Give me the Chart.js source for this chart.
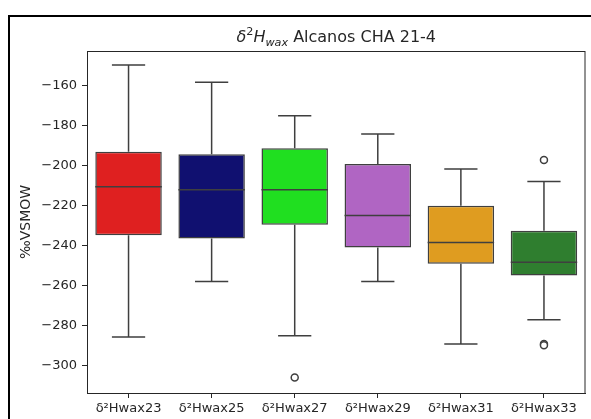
<!DOCTYPE html>
<html>
<head>
<meta charset="utf-8">
<script src="https://cdn.jsdelivr.net/npm/chart.js@4/dist/chart.umd.min.js"></script>
<style>
  html, body { margin: 0; padding: 0; background: #fff; }
  #wrap { width: 591px; height: 419px; position: relative; }
</style>
</head>
<body>
<div id="wrap"><canvas id="boxChart" width="591" height="419"></canvas></div>
<script>
// values (per category)
const categories = ['δ²Hwax23', 'δ²Hwax25', 'δ²Hwax27', 'δ²Hwax29', 'δ²Hwax31', 'δ²Hwax33'];
const whiskerLow = [-285.7, -257.9, -285.0, -257.9, -289.2, -277.0];
const q1 = [-234.7, -236.3, -229.5, -240.9, -249.0, -254.9];
const median = [-210.5, -212.0, -212.0, -224.8, -238.3, -248.2];
const q3 = [-192.9, -194.2, -191.2, -199.1, -220.0, -232.5];
const whiskerHigh = [-149.5, -158.1, -174.9, -184.1, -201.6, -207.8];
const outliers = [[], [], [-306.0], [], [], [-197.1, -289.2, -289.8]];
const yTicks = [-300, -280, -260, -240, -220, -200, -180, -160];
const boxColors = ['#df2020', '#101070', '#20df20', '#b065c3', '#df9c20', '#2f7e2f'];

const lineColor = '#3f3f3f';
const textColor = '#262626';
const fontFamily = "'DejaVu Sans', sans-serif";

const outlierPoints = [];
outliers.forEach(function(list, i) {
    list.forEach(function(v) {
        outlierPoints.push({ x: categories[i], y: v });
    });
});

// whiskers, caps, medians, spines, frame and title
const boxPlotExtras = {
    id: 'boxPlotExtras',
    beforeDatasetsDraw(chart) {
        const ctx = chart.ctx;
        const y = chart.scales.y;
        const bars = chart.getDatasetMeta(0).data;
        ctx.save();
        ctx.strokeStyle = lineColor;
        ctx.lineWidth = 1.5;
        bars.forEach(function(bar, i) {
            const cap = bar.width / 4;
            const yHi = y.getPixelForValue(whiskerHigh[i]);
            const yLo = y.getPixelForValue(whiskerLow[i]);
            ctx.beginPath();
            ctx.moveTo(bar.x, y.getPixelForValue(q3[i]));
            ctx.lineTo(bar.x, yHi);
            ctx.moveTo(bar.x - cap, yHi);
            ctx.lineTo(bar.x + cap, yHi);
            ctx.moveTo(bar.x, y.getPixelForValue(q1[i]));
            ctx.lineTo(bar.x, yLo);
            ctx.moveTo(bar.x - cap, yLo);
            ctx.lineTo(bar.x + cap, yLo);
            ctx.stroke();
        });
        ctx.restore();
    },
    afterDatasetsDraw(chart) {
        const ctx = chart.ctx;
        const y = chart.scales.y;
        const bars = chart.getDatasetMeta(0).data;
        ctx.save();
        ctx.strokeStyle = lineColor;
        ctx.lineWidth = 1.5;
        bars.forEach(function(bar, i) {
            const ym = y.getPixelForValue(median[i]);
            ctx.beginPath();
            ctx.moveTo(bar.x - bar.width / 2, ym);
            ctx.lineTo(bar.x + bar.width / 2, ym);
            ctx.stroke();
        });
        ctx.restore();
    },
    afterDraw(chart) {
        const ctx = chart.ctx;
        const a = chart.chartArea;
        ctx.save();
        // axes box
        ctx.strokeStyle = textColor;
        ctx.lineWidth = 1;
        ctx.strokeRect(a.left + 0.5, a.top + 0.5, a.right - a.left - 1, a.bottom - a.top);
        // outer frame (runs off the right and bottom edges)
        ctx.strokeStyle = '#000';
        ctx.lineWidth = 2;
        ctx.strokeRect(9, 16, 600, 420);

        // y axis label
        ctx.fillStyle = textColor;
        ctx.font = '14px ' + fontFamily;
        ctx.textAlign = 'center';
        ctx.textBaseline = 'middle';
        ctx.translate(26, (a.top + a.bottom) / 2);
        ctx.rotate(-Math.PI / 2);
        ctx.fillText('‰VSMOW', 0, 0);
        ctx.setTransform(1, 0, 0, 1, 0, 0);

        // title: δ²H_wax Alcanos CHA 21-4
        const size = 16;
        const parts = [
            { t: 'δ', font: 'italic ' + size + 'px ' + fontFamily, dy: 0 },
            { t: '2', font: (size * 0.7) + 'px ' + fontFamily, dy: -size * 0.42 },
            { t: 'H', font: 'italic ' + size + 'px ' + fontFamily, dy: 0 },
            { t: 'wax', font: 'italic ' + (size * 0.7) + 'px ' + fontFamily, dy: size * 0.22 },
            { t: ' Alcanos CHA 21-4', font: size + 'px ' + fontFamily, dy: 0 }
        ];
        let total = 0;
        parts.forEach(function(p) {
            ctx.font = p.font;
            p.w = ctx.measureText(p.t).width;
            total += p.w;
        });
        let x = (a.left + a.right) / 2 - total / 2;
        const base = 42;
        ctx.textAlign = 'left';
        ctx.textBaseline = 'alphabetic';
        parts.forEach(function(p) {
            ctx.font = p.font;
            ctx.fillText(p.t, x, base + p.dy);
            x += p.w;
        });
        ctx.restore();
    }
};

const ctx = document.getElementById('boxChart').getContext('2d');
const boxChart = new Chart(ctx, {
    type: 'bar',
    data: {
        labels: categories,
        datasets: [
            {
                label: 'box',
                data: categories.map(function(c, i) { return [q1[i], q3[i]]; }),
                backgroundColor: boxColors,
                borderColor: lineColor,
                borderWidth: 1.5,
                borderSkipped: false,
                barPercentage: 0.8,
                categoryPercentage: 1.0
            },
            {
                type: 'line',
                label: 'outliers',
                data: outlierPoints,
                showLine: false,
                pointRadius: 3.5,
                pointBackgroundColor: '#ffffff',
                pointBorderColor: lineColor,
                pointBorderWidth: 1.5
            }
        ]
    },
    options: {
        responsive: false,
        animation: false,
        devicePixelRatio: 1,
        layout: { padding: { top: 51, right: -3, left: 0, bottom: 0 } },
        scales: {
            x: {
                grid: { display: true, drawOnChartArea: false, offset: false, tickLength: 5, color: textColor },
                border: { display: true, color: textColor, width: 1 },
                ticks: { color: textColor, font: { family: fontFamily, size: 13 }, padding: 3, maxRotation: 0 },
                afterFit: function(scale) {
                    scale.height = 26;
                    scale.paddingLeft = 0;
                    scale.paddingRight = 0;
                }
            },
            y: {
                min: -313.7,
                max: -142.5,
                afterBuildTicks: function(scale) {
                    scale.ticks = yTicks.map(function(v) { return { value: v }; });
                },
                grid: { display: true, drawOnChartArea: false, tickLength: 5, color: textColor },
                border: { display: true, color: textColor, width: 1 },
                ticks: {
                    color: textColor,
                    font: { family: fontFamily, size: 13 },
                    padding: 5,
                    callback: function(v) { return String(v).replace('-', '\u2212'); }
                },
                afterFit: function(scale) {
                    scale.width = 87;
                    scale.paddingTop = 0;
                    scale.paddingBottom = 0;
                }
            }
        },
        plugins: {
            legend: { display: false },
            tooltip: { enabled: false }
        }
    },
    plugins: [boxPlotExtras]
});
</script>
</body>
</html>
